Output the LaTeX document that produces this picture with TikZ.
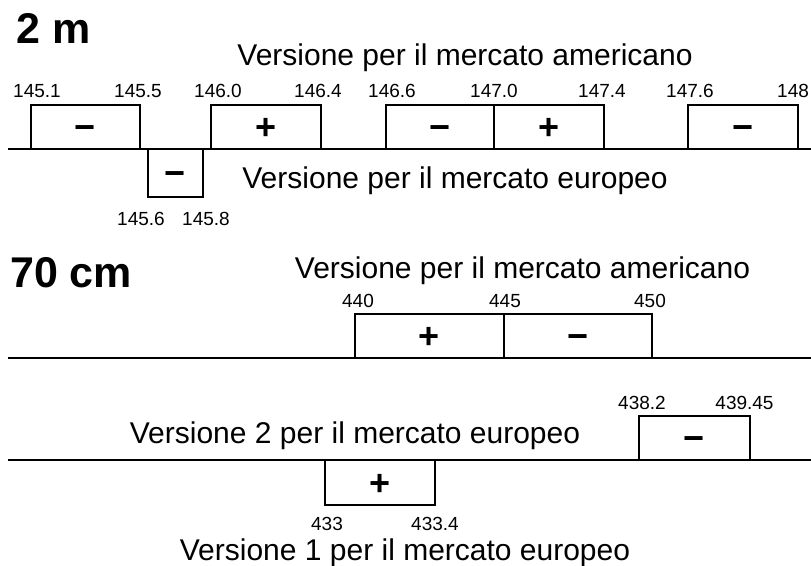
\documentclass[tikz,border=0pt]{standalone}
\usepackage{fontspec}
\setmainfont{Liberation Sans}
\tikzset{
  bpaxis/.style={draw, line width=2pt},
  bpband/.style={rectangle, draw, line width=2pt, inner sep=0pt,
                 minimum height=44pt, text height=25pt, text depth=0pt,
                 font=\fontsize{36}{40}\selectfont\bfseries},
  bpfreq/.style={anchor=base, inner sep=0pt, font=\fontsize{19}{22}\selectfont},
  bpcaption/.style={anchor=base, inner sep=0pt, font=\fontsize{30}{36}\selectfont},
  bptitle/.style={anchor=base west, inner sep=0pt,
                  font=\fontsize{43}{50}\selectfont\bfseries}
}
\begin{document}
\begin{tikzpicture}[x=1pt, y=-1pt]
  \useasboundingbox (0,0) rectangle (811,565);
  % 2 m
  \node[bptitle] (twom) at (16.5,43) {2 m};
  \node[bpcaption] (usa) at (465,65) {Versione per il mercato americano};
  \node[bpcaption] (eua) at (455,188) {Versione per il mercato europeo};
  \coordinate (axal) at (8,149);
  \coordinate (axar) at (811,149);
  \draw[bpaxis] (axal) -- (axar);
  \foreach \l/\r/\s [count=\k] in {31/140/−, 211/321/+, 386/494/−, 494/604/+, 688/798/−} {
    \node[bpband, minimum width={\r-\l}] (usb\k) at ({(\l+\r)/2},127) {\s};
  }
  \node[bpband, minimum width=55pt, minimum height=48pt] (eub) at (175.5,173) {−};
  \foreach \x/\f [count=\k] in {37/145.1, 138/145.5, 218/146.0, 318/146.4,
                                392/146.6, 494/147.0, 602/147.4, 690/147.6} {
    \node[bpfreq] (usf\k) at (\x,97) {\f};
  }
  \node[bpfreq, anchor=base west] (usf9) at (777,97) {148};
  \node[bpfreq] (euf1) at (141,225) {145.6};
  \node[bpfreq] (euf2) at (206,225) {145.8};
  % 70 cm
  \node[bptitle] (sevcm) at (10,287) {70 cm};
  \node[bpcaption] (usb) at (522.5,278) {Versione per il mercato americano};
  \coordinate (axbl) at (8,358);
  \coordinate (axbr) at (811,358);
  \draw[bpaxis] (axbl) -- (axbr);
  \node[bpband, minimum width=149pt] (uub1) at (429.5,336) {+};
  \node[bpband, minimum width=148pt] (uub2) at (578,336) {−};
  \node[bpfreq] (uuf1) at (358,307) {440};
  \node[bpfreq] (uuf2) at (505,307) {445};
  \node[bpfreq] (uuf3) at (650,307) {450};
  \node[bpcaption] (eub2) at (355,443) {Versione 2 per il mercato europeo};
  \node[bpcaption] (eub1) at (405,560) {Versione 1 per il mercato europeo};
  \coordinate (axcl) at (8,460);
  \coordinate (axcr) at (811,460);
  \draw[bpaxis] (axcl) -- (axcr);
  \node[bpband, minimum width=111pt] (eeb2) at (694.5,438) {−};
  \node[bpband, minimum width=110pt, minimum height=45pt] (eeb1) at (380,482.5) {+};
  \node[bpfreq] (eef1) at (642,409) {438.2};
  \node[bpfreq] (eef2) at (744.5,409) {439.45};
  \node[bpfreq] (eef3) at (327,530) {433};
  \node[bpfreq] (eef4) at (435,530) {433.4};
\end{tikzpicture}
\end{document}
